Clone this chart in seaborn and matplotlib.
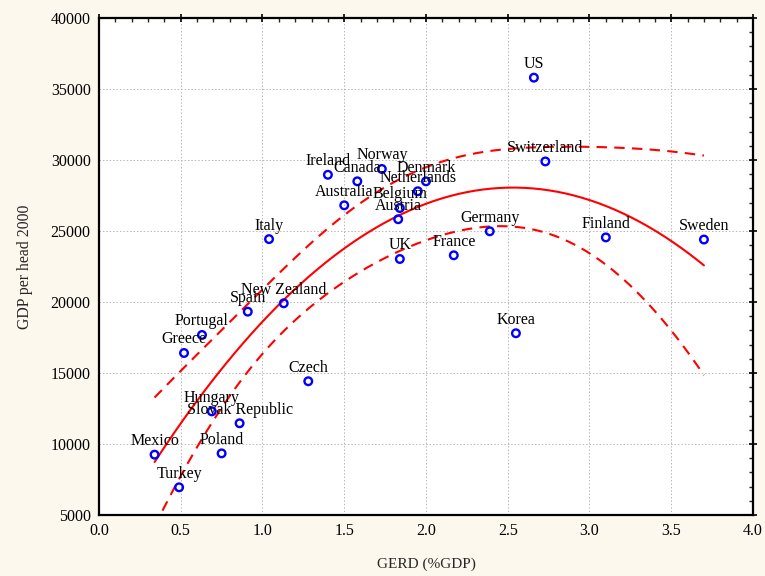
import numpy as np
import pandas as pd
import matplotlib
matplotlib.use("Agg")
import matplotlib.pyplot as plt
from matplotlib.ticker import MultipleLocator, FormatStrFormatter
import seaborn as sns

# R&D intensity versus income, OECD countries
countries = ["US", "Switzerland", "Sweden", "Finland", "Germany", "France", "Korea",
             "UK", "Belgium", "Austria", "Netherlands", "Denmark", "Norway", "Canada",
             "Ireland", "Australia", "Italy", "New Zealand", "Spain", "Portugal",
             "Greece", "Czech", "Hungary", "Slovak Republic", "Mexico", "Poland", "Turkey"]
gerd = [2.66, 2.73, 3.70, 3.10, 2.39, 2.17, 2.55,
        1.84, 1.84, 1.83, 1.95, 2.00, 1.73, 1.58,
        1.40, 1.50, 1.04, 1.13, 0.91, 0.63,
        0.52, 1.28, 0.69, 0.86, 0.34, 0.75, 0.49]
gdp = [35800, 29900, 24400, 24550, 24980, 23290, 17800,
       23030, 26620, 25830, 27800, 28500, 29370, 28500,
       28960, 26810, 24430, 19910, 19320, 17680,
       16410, 14420, 12300, 11460, 9250, 9340, 6950]

df = pd.DataFrame({"country": countries, "gerd": gerd, "gdp": gdp})

# Quadratic regression with 95% confidence band for the mean
x = df["gerd"].to_numpy()
y = df["gdp"].to_numpy()
X = np.column_stack([np.ones_like(x), x, x ** 2])
beta, *_ = np.linalg.lstsq(X, y, rcond=None)
resid = y - X @ beta
dof = len(x) - 3
s2 = resid @ resid / dof
XtX_inv = np.linalg.inv(X.T @ X)
t_crit = 2.064  # t(0.975, 24)
xs = np.linspace(x.min(), x.max(), 200)
Xs = np.column_stack([np.ones_like(xs), xs, xs ** 2])
fit = Xs @ beta
se = np.sqrt(s2 * np.einsum("ij,jk,ik->i", Xs, XtX_inv, Xs))
curve = pd.DataFrame({"gerd": xs, "fit": fit,
                      "lo": fit - t_crit * se, "hi": fit + t_crit * se})

sns.set_theme(style="white")
plt.rcParams["font.family"] = ["Liberation Serif", "DejaVu Serif"]

fig = plt.figure(figsize=(7.65, 5.76), dpi=100, facecolor="#fdf8ee")
ax = fig.add_axes([0.1294, 0.1059, 0.8549, 0.8628])
ax.set_facecolor("white")

sns.lineplot(data=curve, x="gerd", y="fit", ax=ax, color="red", lw=1.5)
sns.lineplot(data=curve, x="gerd", y="lo", ax=ax, color="red", lw=1.5,
             linestyle=(0, (5, 3.5)))
sns.lineplot(data=curve, x="gerd", y="hi", ax=ax, color="red", lw=1.5,
             linestyle=(0, (5, 3.5)))
sns.scatterplot(data=df, x="gerd", y="gdp", ax=ax, s=30, facecolor="none",
                edgecolor="blue", linewidth=1.7, zorder=5)

for c, gx, gy in zip(countries, gerd, gdp):
    ax.annotate(c, (gx, gy), xytext=(0, 4), textcoords="offset points",
                ha="center", va="bottom", fontsize=11.5, color="black", zorder=6)

ax.set_xlim(0, 4.0)
ax.set_ylim(5000, 40000)
ax.xaxis.set_major_locator(MultipleLocator(0.5))
ax.xaxis.set_minor_locator(MultipleLocator(0.1))
ax.yaxis.set_major_locator(MultipleLocator(5000))
ax.yaxis.set_minor_locator(MultipleLocator(1000))
ax.xaxis.set_major_formatter(FormatStrFormatter("%.1f"))
ax.grid(True, which="major", color="#b8b8b8", linestyle=(0, (1.5, 2)), lw=0.7)
ax.tick_params(which="major", direction="inout", length=6, width=1.2,
               top=True, right=True, labelsize=11.5, colors="black", pad=3)
ax.tick_params(which="minor", direction="in", length=3, width=1.0,
               top=True, right=True)
for sp in ax.spines.values():
    sp.set_color("black")
    sp.set_linewidth(1.6)

ax.set_xlabel("GERD (%GDP)", fontsize=11, labelpad=13)
ax.set_ylabel("GDP per head 2000", fontsize=11.3, labelpad=13)

fig.savefig("out.png", dpi=100, facecolor=fig.get_facecolor())
